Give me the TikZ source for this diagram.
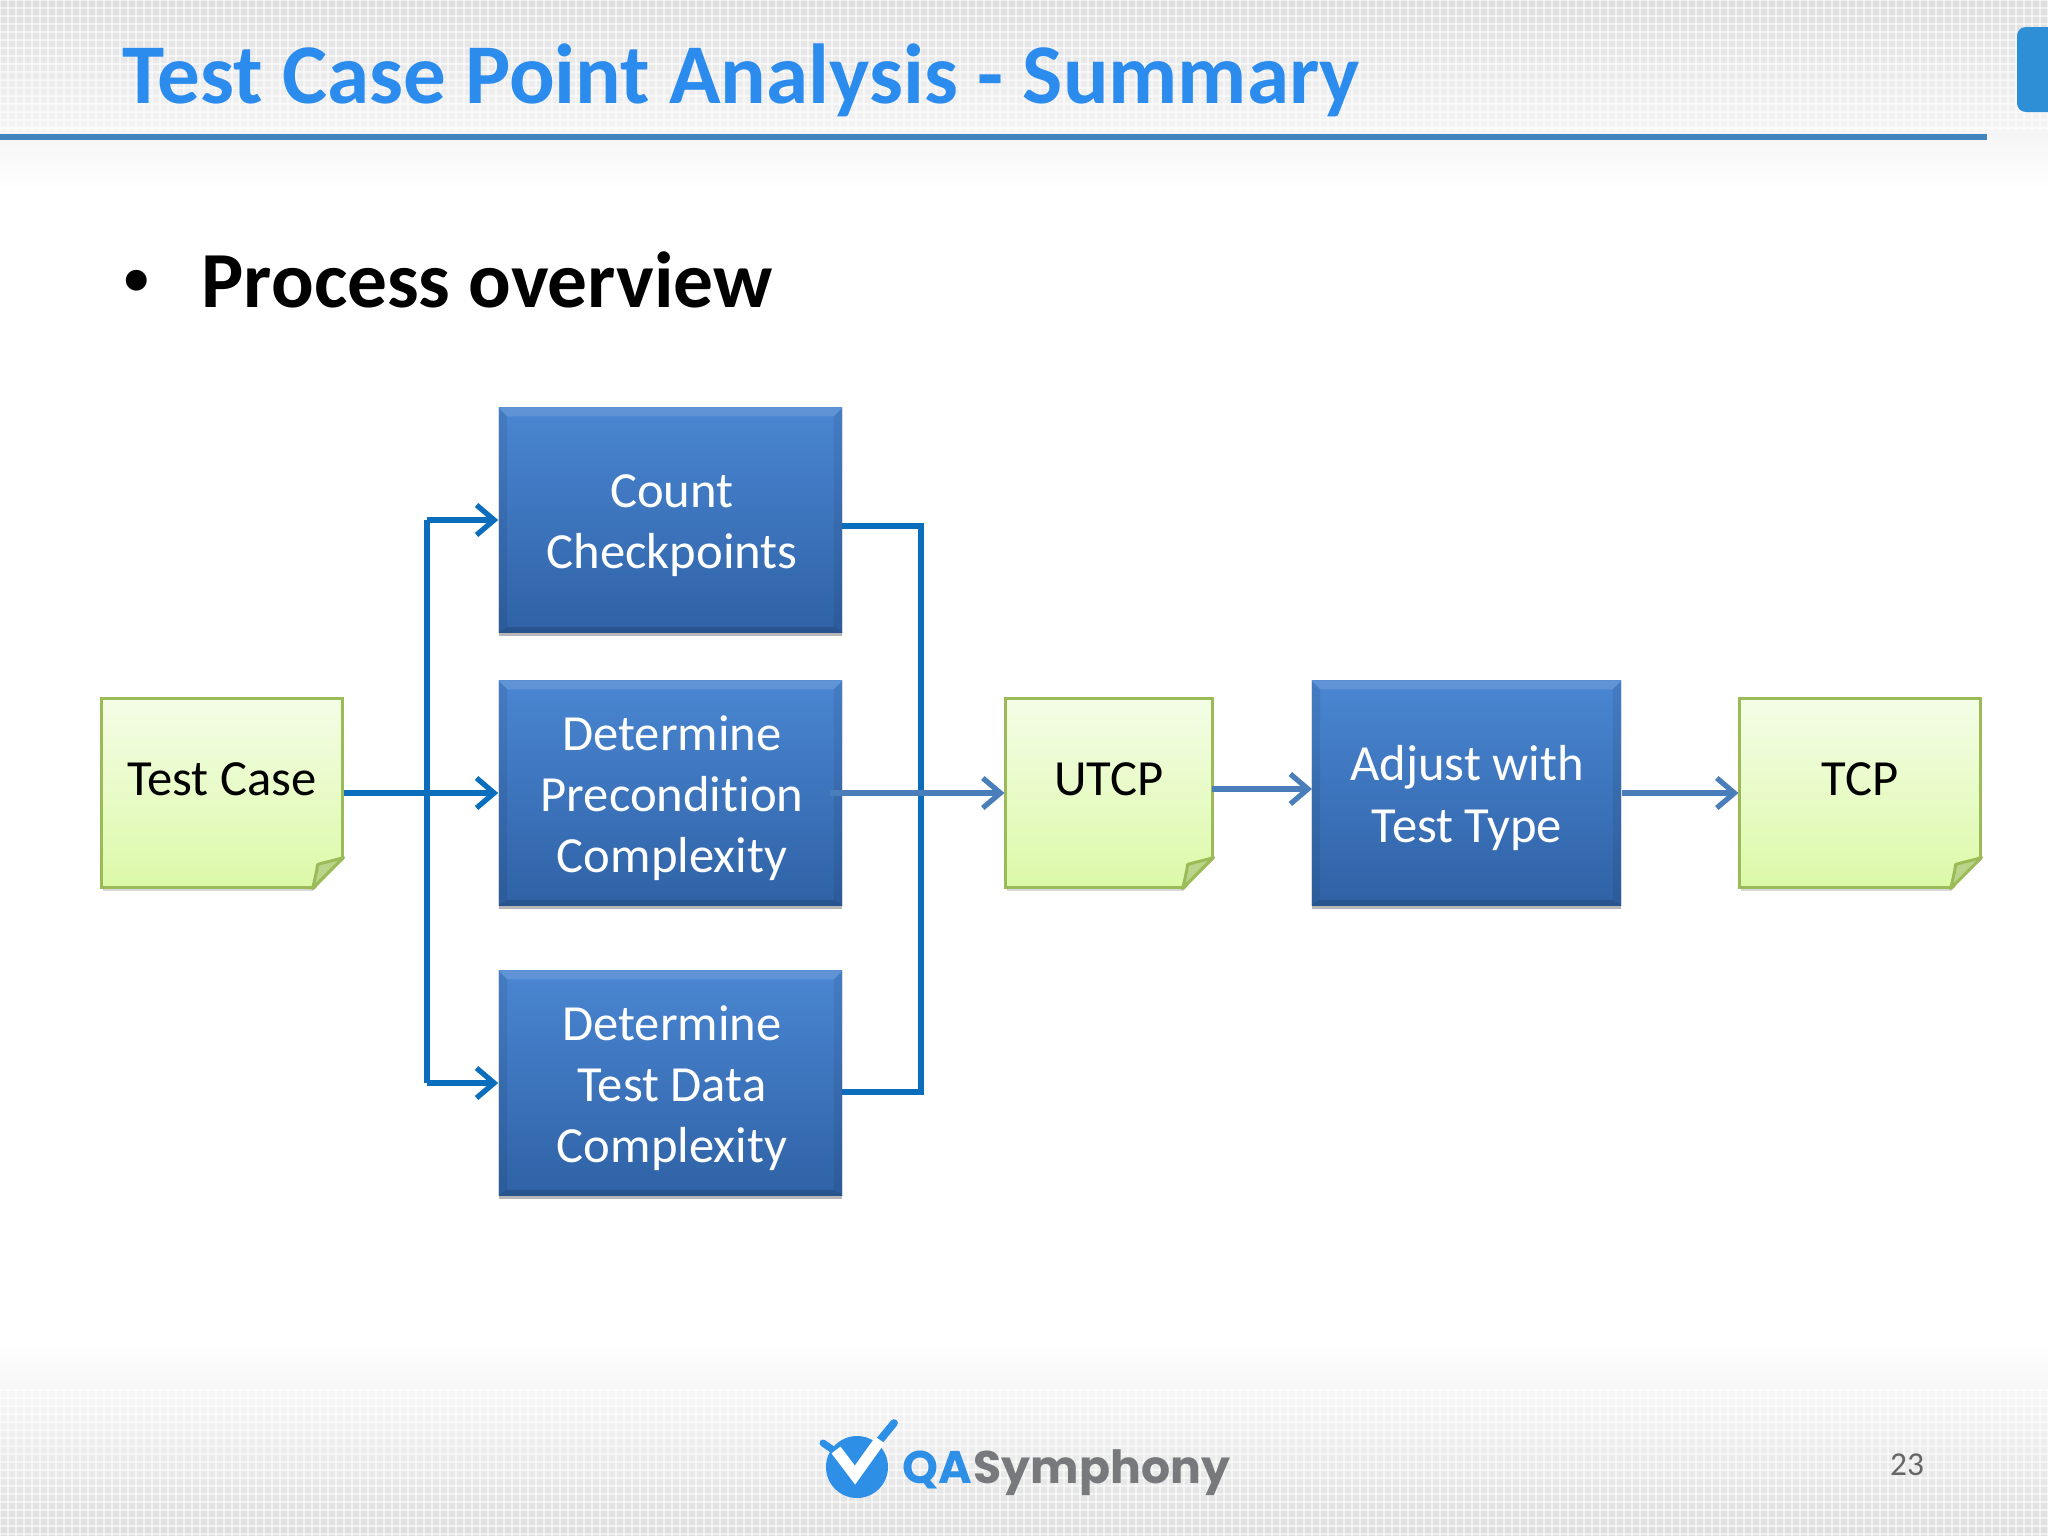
\documentclass[tikz,border=0pt]{standalone}
\usepackage{fontspec}
\setmainfont[Ligatures=NoCommon]{Carlito}
\newfontfamily\logofont{Poppins}
\usetikzlibrary{arrows.meta,shadows,calc}
\definecolor{headblue}{HTML}{2B8CEE}
\definecolor{rulblue}{HTML}{3F84BC}
\definecolor{tabblue}{HTML}{2F8FD6}
\definecolor{linkblue}{HTML}{0A6EBD}
\definecolor{softblue}{HTML}{4A7EBB}
\definecolor{boxtop}{HTML}{4A86D2}
\definecolor{boxbot}{HTML}{2F62A6}
\definecolor{noteline}{HTML}{9BBB59}
\definecolor{notetop}{HTML}{F4FDE6}
\definecolor{notebot}{HTML}{DCF9A8}
\definecolor{notefold}{HTML}{BAD48A}
\definecolor{backgrey}{HTML}{DEDEDE}
\definecolor{logoblue}{HTML}{2E8FE6}
\definecolor{logogrey}{HTML}{77797C}
\tikzset{
  x=0.01cm,y=-0.01cm,
  procbox/.style={rectangle,inner sep=0pt,top color=boxtop,bottom color=boxbot,
    minimum height=224*0.2845pt,
    general shadow={fill=black!70,shadow xshift=0pt,shadow yshift=-1pt,opacity=.4}},
  notebox/.style={rectangle,inner sep=0pt,top color=notetop,bottom color=notebot,
    draw=noteline,line width=0.85pt,minimum height=188*0.2845pt,
    general shadow={fill=black!50,shadow xshift=0.4pt,shadow yshift=-1pt,opacity=.3}},
  boxlabel/.style={inner sep=0pt,align=center,text=white,font=\fontsize{14.4}{17.4}\selectfont},
  notelabel/.style={inner sep=0pt,text=black,font=\fontsize{14.4}{17.4}\selectfont},
  linkline/.style={draw=linkblue,line width=1.6pt},
  softline/.style={draw=softblue,line width=1.6pt},
  tiparrow/.style={-{Straight Barb[length=5pt,width=8.5pt,line width=1.5pt]}},
}
\begin{document}
\begin{tikzpicture}
  \useasboundingbox (0,0) rectangle (2048,1536);
  \fill[white] (0,0) rectangle (2048,1536);

  % Drawing header and footer bands
  \fill[top color=backgrey,bottom color=white] (0,0) rectangle (2048,190);
  \fill[top color=white,bottom color=backgrey] (0,1340) rectangle (2048,1536);
  \foreach \gx in {0,8,...,2048}{
    \draw[white,line width=0.5pt,opacity=.55] (\gx,0) -- (\gx,130);
    \draw[white,line width=0.5pt,opacity=.55] (\gx,1390) -- (\gx,1536);
  }
  \foreach \gy in {0,8,...,130}{
    \draw[white,line width=0.5pt,opacity=.55] (0,\gy) -- (2048,\gy);
  }
  \foreach \gy in {1390,1398,...,1536}{
    \draw[white,line width=0.5pt,opacity=.55] (0,\gy) -- (2048,\gy);
  }

  % Drawing title, rule and tab
  \node (title) [anchor=base west,inner sep=0pt,text=headblue,font=\fontsize{24.2}{28}\selectfont\bfseries]
    at (122,103) {Test Case Point Analysis - Summary};
  \fill[rulblue] (0,134) rectangle (1987,140);
  \fill[tabblue,rounded corners=2.5pt] (2017,27) rectangle (2070,112);

  % Drawing bullet line
  \node (bullet) [anchor=base,inner sep=0pt,font=\fontsize{14}{16}\selectfont\bfseries] at (137,294) {•};
  \node (overview) [anchor=base west,inner sep=0pt,font=\fontsize{22.6}{26}\selectfont\bfseries]
    at (201,307) {Process overview};

  % Marking process boxes
  \node (count) [procbox,minimum width=343*0.2845pt] at (670.5,520) {};
  \node (precond) [procbox,minimum width=343*0.2845pt] at (670.5,793) {};
  \node (testdata) [procbox,minimum width=343*0.2845pt] at (670.5,1083) {};
  \node (adjust) [procbox,minimum width=309*0.2845pt] at (1466.5,793) {};

  % Marking bevels of the process boxes
  \foreach \n in {count,precond,testdata,adjust}{
    \fill[white,opacity=.12] (\n.north west) -- (\n.north east) -- ++(-9,9) -| ($(\n.north west)+(9,9)$) -- cycle;
    \fill[black,opacity=.07] (\n.north east) -- (\n.south east) -- ++(-9,-6) -- ($(\n.north east)+(-9,9)$) -- cycle;
    \fill[black,opacity=.07] (\n.north west) -- (\n.south west) -- ++(9,-6) -- ($(\n.north west)+(9,9)$) -- cycle;
    \fill[black,opacity=.14] (\n.south west) -- (\n.south east) -- ++(-9,-6) -- ($(\n.south west)+(9,-6)$) -- cycle;
  }
  \node (countlabel) [boxlabel] at (672,526) {Count\\Checkpoints};
  \node (precondlabel) [boxlabel] at (672,798) {Determine\\Precondition\\Complexity};
  \node (testdatalabel) [boxlabel] at (672,1088) {Determine\\Test Data\\Complexity};
  \node (adjustlabel) [boxlabel] at (1467,798) {Adjust with\\Test Type};

  % Marking note boxes
  \node (testcase) [notebox,minimum width=240*0.2845pt] at (222,793) {};
  \node (utcp) [notebox,minimum width=206*0.2845pt] at (1109,793) {};
  \node (tcp) [notebox,minimum width=240*0.2845pt] at (1860,793) {};
  \foreach \n in {testcase,utcp,tcp}{
    \begin{scope}[shift=(\n.south east)]
      \fill[white] (3,3) -- (3,-32) -- (-31,3) -- cycle;
      \draw[noteline,line width=0.85pt,fill=notefold,line join=round] (0,-31) .. controls (-10,-28) and (-20,-26) .. (-26,-24)
        .. controls (-27,-16) and (-29,-8) .. (-31,0) -- cycle;
    \end{scope}
  }
  \node (testcaselabel) [notelabel] at (222,779) {Test Case};
  \node (utcplabel) [notelabel] at (1109,779) {UTCP};
  \node (tcplabel) [notelabel] at (1860,779) {TCP};

  % Drawing split lines
  \coordinate (splittop) at (427,520);
  \coordinate (splitbot) at (427,1083);
  \draw [linkline] (splittop) -- (splitbot);
  \draw [linkline,tiparrow] (splittop) -- (count.west);
  \draw [linkline,tiparrow] (testcase.east) -- (precond.west);
  \draw [linkline,tiparrow] (splitbot) -- (testdata.west);

  % Drawing merge lines
  \coordinate (counttail) at (842,526);
  \coordinate (mergetop) at (921,526);
  \coordinate (datatail) at (842,1092);
  \coordinate (mergebot) at (921,1092);
  \draw [linkline,line join=miter] (counttail) -- (mergetop) -- (mergebot) -- (datatail);

  % Drawing flow arrows
  \coordinate (preout) at (830,793);
  \coordinate (utcpout) at (1212,789);
  \coordinate (adjustin) at (1312,789);
  \draw [softline,tiparrow] (preout) -- (utcp.west);
  \draw [softline,tiparrow] (utcpout) -- (adjustin);
  \draw [softline,tiparrow] (adjust.east) -- (tcp.west);

  % Drawing logo
  \fill[logoblue] (857,1467) circle (31);
  \draw[logoblue,line width=2pt,line cap=round] (823,1443) -- (836,1452);
  \draw[logoblue,line width=2.2pt,line cap=round] (876,1445) -- (894,1423);
  \draw[white,line width=3.2pt] (836,1450) -- (855,1475) -- (880,1440);
  \node (logoqa) [anchor=base west,inner sep=0pt,text=logoblue,font=\logofont\bfseries\fontsize{13}{15}\selectfont] at (902,1483) {QA};
  \node (logosym) [anchor=base west,inner sep=0pt,text=logogrey,font=\logofont\bfseries\fontsize{13}{15}\selectfont] at (logoqa.base east) {Symphony};

  % Marking page number
  \node (pagenum) [inner sep=0pt,text=black!60,font=\fontsize{9.5}{11}\selectfont] at (1907,1465) {23};
\end{tikzpicture}
\end{document}
